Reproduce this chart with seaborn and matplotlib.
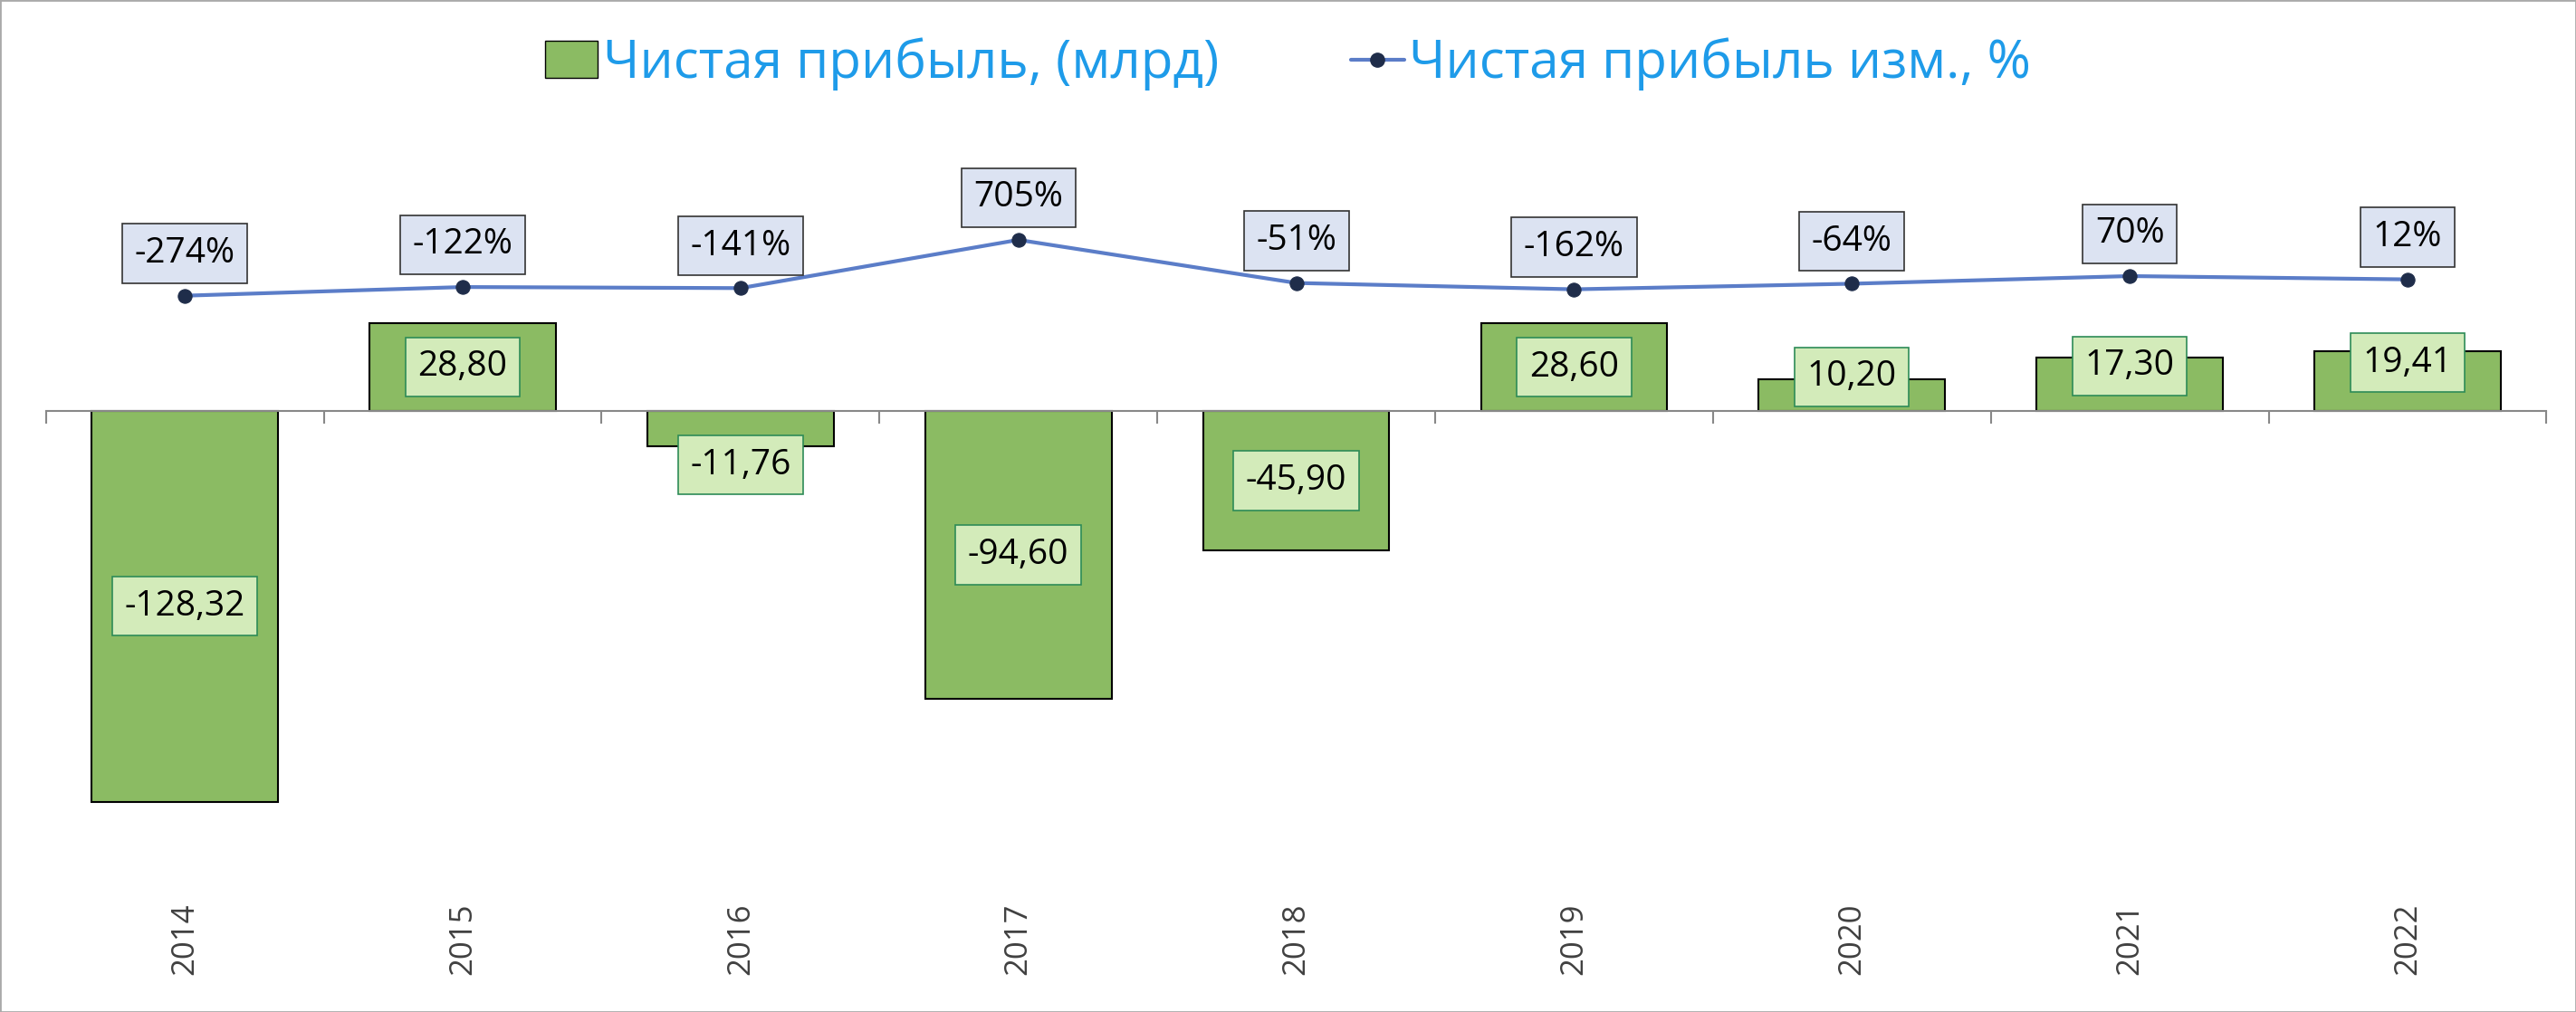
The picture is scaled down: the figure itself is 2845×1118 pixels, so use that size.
import numpy as np
import pandas as pd
import matplotlib
matplotlib.use("Agg")
import matplotlib.pyplot as plt
from matplotlib.lines import Line2D
from matplotlib.patches import Patch
import seaborn as sns

years = ["2014", "2015", "2016", "2017", "2018", "2019", "2020", "2021", "2022"]
profit = [-128.32, 28.80, -11.76, -94.60, -45.90, 28.60, 10.20, 17.30, 19.41]
change_pct = [-274, -122, -141, 705, -51, -162, -64, 70, 12]

bar_color = "#8BBB63"
line_color = "#5B7DC8"
marker_color = "#1F2D4A"
legend_color = "#1E9BE9"

sns.set_theme(style="white")
plt.rcParams["font.family"] = ["Open Sans", "DejaVu Sans"]

df = pd.DataFrame({"year": years, "profit": profit, "pct": change_pct})

fig = plt.figure(figsize=(28.45, 11.18), dpi=100)
W, H = 1568, 616
ax = fig.add_axes([28 / W, (H - 500) / H, 1522 / W, 460 / H])

sns.barplot(data=df, x="year", y="profit", color=bar_color, width=0.67,
            edgecolor="black", linewidth=1.5, saturation=1, ax=ax)
ax.set_ylim(-134.8, 113.2)
ax.set_xlim(-0.5, len(years) - 0.5)
for s in ["top", "right", "left"]:
    ax.spines[s].set_visible(False)
ax.spines["bottom"].set_position(("data", 0))
ax.spines["bottom"].set_color("#888888")
ax.spines["bottom"].set_linewidth(1.5)
ax.set_xticks(np.arange(len(years) + 1) - 0.5, minor=True)
ax.set_xticks([])
ax.tick_params(axis="x", which="minor", bottom=True, direction="out", length=10,
               color="#888888", width=1.5)
ax.set_yticks([])
ax.set_xlabel("")
ax.set_ylabel("")

for i, (y, v) in enumerate(zip(years, profit)):
    ax.text(i, v / 2 if abs(v) > 25 else (v / 2 - 12 if v < 0 else v / 2 + 6),
            f"{v:.2f}".replace(".", ","), ha="center", va="center", fontsize=28,
            color="black",
            bbox=dict(boxstyle="square,pad=0.35", fc="#D3EBBA", ec="#2E8B57", lw=1.2))
    ax.text(i, -0.155, y, transform=ax.get_xaxis_transform(), rotation=90,
            ha="center", va="center", fontsize=25, color="#404040")

ax2 = ax.twinx()
sns.lineplot(x=np.arange(len(years)), y=change_pct, ax=ax2, color=line_color,
             linewidth=3, marker="o", markersize=11, markerfacecolor=marker_color,
             markeredgecolor=marker_color)
ax2.set_ylim(-9496, 3760)
ax2.set_yticks([])
for s in ["top", "right", "left", "bottom"]:
    ax2.spines[s].set_visible(False)
for i, p in enumerate(change_pct):
    ax2.text(i, p + 740, f"{p}%", ha="center", va="center", fontsize=28, color="black",
             bbox=dict(boxstyle="square,pad=0.35", fc="#DCE3F2", ec="#333333", lw=1.2))

handles = [Patch(facecolor=bar_color, edgecolor="black", label="Чистая прибыль, (млрд)"),
           Line2D([0], [0], color=line_color, lw=3, marker="o", markersize=11,
                  markerfacecolor=marker_color, markeredgecolor=marker_color,
                  label="Чистая прибыль изм., %")]
leg = fig.legend(handles=handles, loc="upper center", bbox_to_anchor=(0.5, 1.01),
                 ncol=2, frameon=False, fontsize=42, handlelength=1.0,
                 handletextpad=0.1, columnspacing=2.5)
for t in leg.get_texts():
    t.set_color(legend_color)

fig.patches.append(plt.Rectangle((0, 0), 1, 1, transform=fig.transFigure,
                                 fill=False, ec="#AAAAAA", lw=2))
fig.savefig("out.png", dpi=100)
